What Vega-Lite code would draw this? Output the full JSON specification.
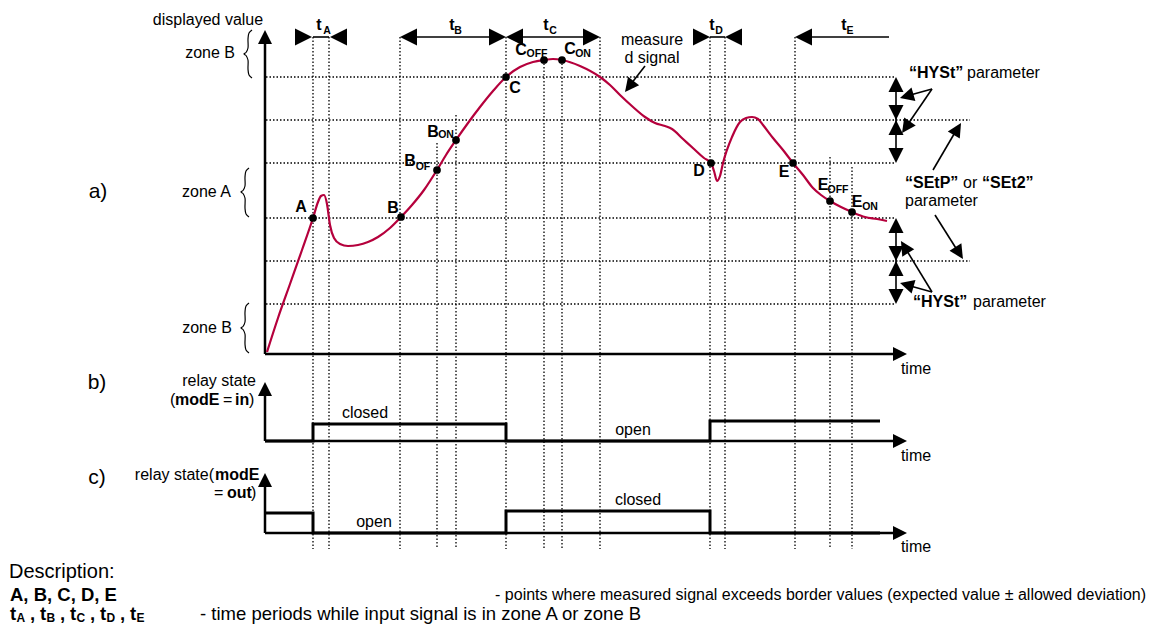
{
  "$schema": "https://vega.github.io/schema/vega-lite/v6.json",
  "width": 1149,
  "height": 626,
  "padding": 0,
  "autosize": {"type": "none"},
  "background": "white",
  "config": {"view": {"stroke": null}, "text": {"font": "Liberation Sans", "baseline": "middle", "color": "black"}},
  "encoding": {
    "x": {"field": "x", "type": "quantitative", "scale": {"domain": [0, 1149], "nice": false, "zero": false}, "axis": null},
    "y": {"field": "y", "type": "quantitative", "scale": {"domain": [0, 626], "nice": false, "zero": false, "reverse": true}, "axis": null}
  },
  "datasets": {
    "hdot": [
      {"x": 266, "x2": 895, "y": 77}, {"x": 266, "x2": 970, "y": 120}, {"x": 266, "x2": 895, "y": 163},
      {"x": 266, "x2": 895, "y": 218}, {"x": 266, "x2": 970, "y": 261}, {"x": 266, "x2": 895, "y": 304}
    ],
    "vdot": [
      {"x": 313, "y": 37, "y2": 549}, {"x": 329, "y": 37, "y2": 549}, {"x": 400, "y": 37, "y2": 549},
      {"x": 437, "y": 143, "y2": 549}, {"x": 456, "y": 115, "y2": 549}, {"x": 506, "y": 37, "y2": 549},
      {"x": 544, "y": 60, "y2": 549}, {"x": 562, "y": 60, "y2": 549}, {"x": 600, "y": 37, "y2": 549},
      {"x": 710, "y": 37, "y2": 549}, {"x": 725, "y": 37, "y2": 549}, {"x": 795, "y": 37, "y2": 549},
      {"x": 830, "y": 157, "y2": 549}, {"x": 852, "y": 167, "y2": 549}
    ],
    "axes": [
      {"x": 265, "y": 354, "x2": 265, "y2": 42}, {"x": 265, "y": 354, "x2": 893, "y2": 354},
      {"x": 265, "y": 441, "x2": 265, "y2": 394}, {"x": 265, "y": 441, "x2": 893, "y2": 441},
      {"x": 265, "y": 533, "x2": 265, "y2": 485}, {"x": 265, "y": 533, "x2": 893, "y2": 533}
    ],
    "thin": [
      {"x": 313, "y": 37, "x2": 329, "y2": 37}, {"x": 408, "y": 37, "x2": 498, "y2": 37},
      {"x": 514, "y": 37, "x2": 592, "y2": 37}, {"x": 710, "y": 37, "x2": 725, "y2": 37},
      {"x": 803, "y": 37, "x2": 889, "y2": 37},
      {"x": 896, "y": 84, "x2": 896, "y2": 156}, {"x": 896, "y": 225, "x2": 896, "y2": 297},
      {"x": 932, "y": 89, "x2": 906.7, "y2": 96}, {"x": 932, "y": 89, "x2": 906, "y2": 127},
      {"x": 932, "y": 292, "x2": 906.8, "y2": 285}, {"x": 932, "y": 292, "x2": 904.6, "y2": 247},
      {"x": 933, "y": 170, "x2": 957, "y2": 129}, {"x": 935, "y": 215, "x2": 959, "y2": 253},
      {"x": 645, "y": 66, "x2": 629, "y2": 86.5}
    ],
    "relay": [
      {"s": "b", "i": 0, "x": 265, "y": 441}, {"s": "b", "i": 1, "x": 313, "y": 441}, {"s": "b", "i": 2, "x": 313, "y": 424},
      {"s": "b", "i": 3, "x": 506, "y": 424}, {"s": "b", "i": 4, "x": 506, "y": 441}, {"s": "b", "i": 5, "x": 710, "y": 441},
      {"s": "b", "i": 6, "x": 710, "y": 421}, {"s": "b", "i": 7, "x": 880, "y": 421},
      {"s": "c", "i": 0, "x": 265, "y": 513}, {"s": "c", "i": 1, "x": 313, "y": 513}, {"s": "c", "i": 2, "x": 313, "y": 533},
      {"s": "c", "i": 3, "x": 506, "y": 533}, {"s": "c", "i": 4, "x": 506, "y": 511}, {"s": "c", "i": 5, "x": 710, "y": 511},
      {"s": "c", "i": 6, "x": 710, "y": 533}, {"s": "c", "i": 7, "x": 880, "y": 533}
    ],
    "signal": [
      {"x": 267, "y": 352}, {"x": 278, "y": 318}, {"x": 290, "y": 284}, {"x": 302, "y": 250}, {"x": 313, "y": 218},
      {"x": 318, "y": 202}, {"x": 321, "y": 196}, {"x": 324, "y": 195}, {"x": 327, "y": 204}, {"x": 330, "y": 225},
      {"x": 334, "y": 238}, {"x": 340, "y": 244}, {"x": 348, "y": 246}, {"x": 358, "y": 245}, {"x": 368, "y": 242},
      {"x": 378, "y": 237}, {"x": 390, "y": 228}, {"x": 401, "y": 217}, {"x": 412, "y": 205}, {"x": 424, "y": 190},
      {"x": 437, "y": 170}, {"x": 446, "y": 155}, {"x": 456, "y": 140}, {"x": 468, "y": 123}, {"x": 480, "y": 107},
      {"x": 493, "y": 91}, {"x": 506, "y": 77}, {"x": 520, "y": 67}, {"x": 533, "y": 62}, {"x": 544, "y": 60},
      {"x": 553, "y": 59}, {"x": 562, "y": 60}, {"x": 580, "y": 66}, {"x": 600, "y": 77}, {"x": 610, "y": 85},
      {"x": 620, "y": 95}, {"x": 633, "y": 107}, {"x": 645, "y": 117}, {"x": 655, "y": 123}, {"x": 665, "y": 126},
      {"x": 672, "y": 129}, {"x": 683, "y": 139}, {"x": 694, "y": 149}, {"x": 704, "y": 158}, {"x": 711, "y": 163},
      {"x": 714, "y": 171}, {"x": 717, "y": 181}, {"x": 720, "y": 176}, {"x": 723, "y": 163}, {"x": 732, "y": 137},
      {"x": 740, "y": 122}, {"x": 746, "y": 118}, {"x": 752, "y": 117}, {"x": 758, "y": 119}, {"x": 763, "y": 125},
      {"x": 773, "y": 138}, {"x": 783, "y": 150}, {"x": 793, "y": 163}, {"x": 803, "y": 175}, {"x": 813, "y": 188},
      {"x": 821, "y": 195}, {"x": 830, "y": 201}, {"x": 841, "y": 207}, {"x": 852, "y": 212}, {"x": 865, "y": 217},
      {"x": 877, "y": 219}, {"x": 887, "y": 221}
    ],
    "dots": [
      {"x": 313, "y": 218}, {"x": 401, "y": 217}, {"x": 437, "y": 170}, {"x": 456, "y": 140}, {"x": 506, "y": 77},
      {"x": 544, "y": 60}, {"x": 562, "y": 60}, {"x": 711, "y": 163}, {"x": 793, "y": 163}, {"x": 830, "y": 201}, {"x": 852, "y": 212}
    ],
    "arrowTop": [
      {"x": 303.5, "y": 37, "a": 90}, {"x": 338.5, "y": 37, "a": 270}, {"x": 408.5, "y": 37, "a": 270},
      {"x": 497.5, "y": 37, "a": 90}, {"x": 514.5, "y": 37, "a": 270}, {"x": 591.5, "y": 37, "a": 90},
      {"x": 701.5, "y": 37, "a": 90}, {"x": 733.5, "y": 37, "a": 270}, {"x": 803.5, "y": 37, "a": 270}
    ],
    "arrowMid": [
      {"x": 265, "y": 37, "a": 0}, {"x": 265, "y": 389, "a": 0}, {"x": 265, "y": 480, "a": 0},
      {"x": 900, "y": 354, "a": 90}, {"x": 900, "y": 441, "a": 90}, {"x": 900, "y": 533, "a": 90},
      {"x": 906.7, "y": 96.1, "a": 254}, {"x": 906, "y": 127.2, "a": 214.5}, {"x": 906.8, "y": 284.9, "a": 286},
      {"x": 904.6, "y": 247, "a": 328.5}, {"x": 957.4, "y": 129, "a": 31}, {"x": 959.2, "y": 253, "a": 147.6},
      {"x": 629.3, "y": 86.5, "a": 217.7}
    ],
    "arrowDbl": [
      {"x": 896, "y": 84.5, "a": 0}, {"x": 896, "y": 112.5, "a": 180}, {"x": 896, "y": 127.5, "a": 0}, {"x": 896, "y": 155.5, "a": 180},
      {"x": 896, "y": 225.5, "a": 0}, {"x": 896, "y": 253.5, "a": 180}, {"x": 896, "y": 268.5, "a": 0}, {"x": 896, "y": 296.5, "a": 180}
    ],
    "braces": [
      {"b": 1, "i": 0, "x": 252, "y": 30}, {"b": 1, "i": 1, "x": 249, "y": 33}, {"b": 1, "i": 2, "x": 248, "y": 39},
      {"b": 1, "i": 3, "x": 248, "y": 48}, {"b": 1, "i": 4, "x": 246, "y": 52.5}, {"b": 1, "i": 5, "x": 244, "y": 54},
      {"b": 1, "i": 6, "x": 246, "y": 55.5}, {"b": 1, "i": 7, "x": 248, "y": 60}, {"b": 1, "i": 8, "x": 248, "y": 69},
      {"b": 1, "i": 9, "x": 249, "y": 75}, {"b": 1, "i": 10, "x": 252, "y": 78},
      {"b": 2, "i": 0, "x": 249, "y": 168}, {"b": 2, "i": 1, "x": 246, "y": 171}, {"b": 2, "i": 2, "x": 245, "y": 177},
      {"b": 2, "i": 3, "x": 245, "y": 186}, {"b": 2, "i": 4, "x": 243, "y": 190.5}, {"b": 2, "i": 5, "x": 241, "y": 192},
      {"b": 2, "i": 6, "x": 243, "y": 193.5}, {"b": 2, "i": 7, "x": 245, "y": 198}, {"b": 2, "i": 8, "x": 245, "y": 208},
      {"b": 2, "i": 9, "x": 246, "y": 214}, {"b": 2, "i": 10, "x": 249, "y": 217},
      {"b": 3, "i": 0, "x": 249, "y": 303}, {"b": 3, "i": 1, "x": 246, "y": 306}, {"b": 3, "i": 2, "x": 245, "y": 312},
      {"b": 3, "i": 3, "x": 245, "y": 322}, {"b": 3, "i": 4, "x": 243, "y": 326.5}, {"b": 3, "i": 5, "x": 241, "y": 328},
      {"b": 3, "i": 6, "x": 243, "y": 329.5}, {"b": 3, "i": 7, "x": 245, "y": 334}, {"b": 3, "i": 8, "x": 245, "y": 344},
      {"b": 3, "i": 9, "x": 246, "y": 350}, {"b": 3, "i": 10, "x": 249, "y": 353}
    ],
    "tn16c": [
      {"x": 208, "y": 20, "t": "displayed value"}, {"x": 652, "y": 40, "t": "measure"}, {"x": 652, "y": 58, "t": "d signal"},
      {"x": 365, "y": 413, "t": "closed"}, {"x": 633, "y": 430, "t": "open"}, {"x": 374, "y": 522, "t": "open"},
      {"x": 638, "y": 500, "t": "closed"}, {"x": 916, "y": 369, "t": "time"}, {"x": 916, "y": 456, "t": "time"},
      {"x": 916, "y": 547, "t": "time"}
    ],
    "tn16r": [
      {"x": 235, "y": 53, "t": "zone B"}, {"x": 231, "y": 192, "t": "zone A"}, {"x": 232, "y": 328, "t": "zone B"},
      {"x": 256, "y": 381, "t": "relay state"}, {"x": 214, "y": 475, "t": "relay state("}
    ],
    "tn16l": [
      {"x": 170, "y": 400, "t": "("}, {"x": 223, "y": 400, "t": "="}, {"x": 249, "y": 400, "t": ")"},
      {"x": 214, "y": 493, "t": "="}, {"x": 251, "y": 493, "t": ")"},
      {"x": 967, "y": 73, "t": "parameter"}, {"x": 973, "y": 302, "t": "parameter"},
      {"x": 963, "y": 183, "t": "or"}, {"x": 905, "y": 201, "t": "parameter"}
    ],
    "tb16l": [
      {"x": 175, "y": 400, "t": "modE"}, {"x": 235, "y": 400, "t": "in"}, {"x": 215, "y": 475, "t": "modE"},
      {"x": 227, "y": 493, "t": "out"}, {"x": 909, "y": 73, "t": "“HYSt”"}, {"x": 913, "y": 302, "t": "“HYSt”"},
      {"x": 905, "y": 183, "t": "“SEtP”"}, {"x": 982, "y": 183, "t": "“SEt2”"}
    ],
    "tb16c": [
      {"x": 301, "y": 207, "t": "A"}, {"x": 393, "y": 208, "t": "B"}, {"x": 410, "y": 161, "t": "B"}, {"x": 433, "y": 132, "t": "B"},
      {"x": 515, "y": 88, "t": "C"}, {"x": 521, "y": 50, "t": "C"}, {"x": 570, "y": 49, "t": "C"}, {"x": 699, "y": 171, "t": "D"},
      {"x": 784, "y": 172, "t": "E"}, {"x": 823, "y": 185, "t": "E"}, {"x": 857, "y": 202, "t": "E"},
      {"x": 319, "y": 25, "t": "t"}, {"x": 452, "y": 25, "t": "t"}, {"x": 546, "y": 25, "t": "t"}, {"x": 712, "y": 25, "t": "t"}, {"x": 844, "y": 25, "t": "t"}
    ],
    "tb10c": [
      {"x": 423, "y": 167, "t": "OF"}, {"x": 446, "y": 135, "t": "ON"}, {"x": 537, "y": 54, "t": "OFF"}, {"x": 583, "y": 54, "t": "ON"},
      {"x": 838, "y": 190, "t": "OFF"}, {"x": 870, "y": 207, "t": "ON"},
      {"x": 327, "y": 31, "t": "A"}, {"x": 458, "y": 31, "t": "B"}, {"x": 553, "y": 31, "t": "C"}, {"x": 719, "y": 31, "t": "D"}, {"x": 850, "y": 31, "t": "E"}
    ],
    "tn21c": [
      {"x": 98, "y": 192, "t": "a)"}, {"x": 97, "y": 383, "t": "b)"}, {"x": 97, "y": 478, "t": "c)"}
    ],
    "descTitle": [{"x": 9, "y": 572, "t": "Description:"}],
    "descBold": [
      {"x": 10, "y": 595, "t": "A, B, C, D, E"},
      {"x": 10, "y": 614, "t": "t"}, {"x": 30, "y": 614, "t": ","}, {"x": 40, "y": 614, "t": "t"}, {"x": 60, "y": 614, "t": ","},
      {"x": 70, "y": 614, "t": "t"}, {"x": 90, "y": 614, "t": ","}, {"x": 100, "y": 614, "t": "t"}, {"x": 120, "y": 614, "t": ","},
      {"x": 130, "y": 614, "t": "t"}
    ],
    "descSub": [
      {"x": 16.5, "y": 618, "t": "A"}, {"x": 46.5, "y": 618, "t": "B"}, {"x": 76.5, "y": 618, "t": "C"}, {"x": 106.5, "y": 618, "t": "D"}, {"x": 136.5, "y": 618, "t": "E"}
    ],
    "descR": [{"x": 1146, "y": 595, "t": "- points where measured signal exceeds border values (expected value ± allowed deviation)"}],
    "descL": [{"x": 200, "y": 614, "t": "- time periods while input signal is in zone A or zone B"}]
  },
  "layer": [
    {"data": {"name": "hdot"}, "mark": {"type": "rule", "color": "black", "strokeWidth": 1.3, "strokeDash": [1.5, 2]}, "encoding": {"x2": {"field": "x2"}}},
    {"data": {"name": "vdot"}, "mark": {"type": "rule", "color": "black", "strokeWidth": 1.3, "strokeDash": [1.5, 2]}, "encoding": {"y2": {"field": "y2"}}},
    {"data": {"name": "thin"}, "mark": {"type": "rule", "color": "black", "strokeWidth": 1.6}, "encoding": {"x2": {"field": "x2"}, "y2": {"field": "y2"}}},
    {"data": {"name": "axes"}, "mark": {"type": "rule", "color": "black", "strokeWidth": 2.5}, "encoding": {"x2": {"field": "x2"}, "y2": {"field": "y2"}}},
    {"data": {"name": "relay"}, "mark": {"type": "line", "color": "black", "strokeWidth": 3, "strokeJoin": "miter"}, "encoding": {"detail": {"field": "s"}, "order": {"field": "i"}}},
    {"data": {"name": "braces"}, "mark": {"type": "line", "color": "black", "strokeWidth": 1.2, "interpolate": "catmull-rom"}, "encoding": {"detail": {"field": "b"}, "order": {"field": "i"}}},
    {"data": {"name": "signal"}, "mark": {"type": "line", "color": "#b5003c", "strokeWidth": 2.2, "interpolate": "monotone"}, "encoding": {}},
    {"data": {"name": "dots"}, "mark": {"type": "point", "shape": "circle", "filled": true, "color": "black", "size": 60, "opacity": 1}, "encoding": {}},
    {"data": {"name": "arrowTop"}, "mark": {"type": "point", "shape": "M0,-1L1,1L-1,1Z", "filled": true, "color": "black", "size": 289, "opacity": 1}, "encoding": {"angle": {"field": "a", "type": "quantitative", "scale": null}}},
    {"data": {"name": "arrowMid"}, "mark": {"type": "point", "shape": "M0,-1L1,1L-1,1Z", "filled": true, "color": "black", "size": 196, "opacity": 1}, "encoding": {"angle": {"field": "a", "type": "quantitative", "scale": null}}},
    {"data": {"name": "arrowDbl"}, "mark": {"type": "point", "shape": "M0,-1L1,1L-1,1Z", "filled": true, "color": "black", "size": 225, "opacity": 1}, "encoding": {"angle": {"field": "a", "type": "quantitative", "scale": null}}},
    {"data": {"name": "tn16c"}, "mark": {"type": "text", "fontSize": 16, "align": "center"}, "encoding": {"text": {"field": "t"}}},
    {"data": {"name": "tn16r"}, "mark": {"type": "text", "fontSize": 16, "align": "right"}, "encoding": {"text": {"field": "t"}}},
    {"data": {"name": "tn16l"}, "mark": {"type": "text", "fontSize": 16, "align": "left"}, "encoding": {"text": {"field": "t"}}},
    {"data": {"name": "tb16l"}, "mark": {"type": "text", "fontSize": 16, "fontWeight": "bold", "align": "left"}, "encoding": {"text": {"field": "t"}}},
    {"data": {"name": "tb16c"}, "mark": {"type": "text", "fontSize": 16, "fontWeight": "bold", "align": "center"}, "encoding": {"text": {"field": "t"}}},
    {"data": {"name": "tb10c"}, "mark": {"type": "text", "fontSize": 10.5, "fontWeight": "bold", "align": "center"}, "encoding": {"text": {"field": "t"}}},
    {"data": {"name": "tn21c"}, "mark": {"type": "text", "fontSize": 21, "align": "center"}, "encoding": {"text": {"field": "t"}}},
    {"data": {"name": "descTitle"}, "mark": {"type": "text", "fontSize": 20, "align": "left"}, "encoding": {"text": {"field": "t"}}},
    {"data": {"name": "descBold"}, "mark": {"type": "text", "fontSize": 18.5, "fontWeight": "bold", "align": "left"}, "encoding": {"text": {"field": "t"}}},
    {"data": {"name": "descSub"}, "mark": {"type": "text", "fontSize": 12, "fontWeight": "bold", "align": "left"}, "encoding": {"text": {"field": "t"}}},
    {"data": {"name": "descR"}, "mark": {"type": "text", "fontSize": 16, "align": "right"}, "encoding": {"text": {"field": "t"}}},
    {"data": {"name": "descL"}, "mark": {"type": "text", "fontSize": 18.5, "align": "left"}, "encoding": {"text": {"field": "t"}}}
  ]
}
